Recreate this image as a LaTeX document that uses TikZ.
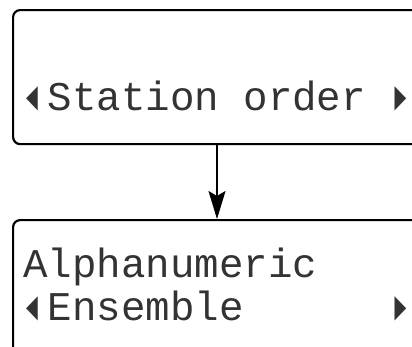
\documentclass[tikz,border=0pt]{standalone}
\usepackage{fontspec}
\setmonofont{Liberation Mono}
\usetikzlibrary{arrows.meta}
\newcommand{\lcdl}{\makebox[0.6em][l]{\hspace{0.09em}\scalebox{0.5}[1]{◄}}}
\newcommand{\lcdr}{\makebox[0.6em][l]{\hspace{0.09em}\scalebox{0.5}[1]{►}}}
\begin{document}
\begin{tikzpicture}[x=1pt,y=1pt,font=\ttfamily\fontsize{40.8}{44}\selectfont,
screen/.style={draw, line width=2.2pt, rounded corners=7pt, anchor=north west,
    minimum width=460pt, inner sep=0pt},
lcd/.style={anchor=base west, inner sep=0pt, text=black!80}]
\clip (0,0) rectangle (412,-346);
\node[screen, minimum height=134pt] (station) at (12,-9) {};
\node[screen, minimum height=170pt] (alpha) at (12,-219) {};
\node[lcd] (stationtxt) at (23,-110) {\lcdl Station order \lcdr};
\node[lcd] (alphatxt) at (23,-277) {Alphanumeric};
\node[lcd] (enstxt) at (23,-320) {\lcdl Ensemble~~~~~~\lcdr};
\draw[line width=1.8pt, -{Stealth[length=28pt, width=17pt, inset=5pt]}]
  (station.south west -| 217,0) -- (alpha.north west -| 217,0);
\end{tikzpicture}
\end{document}
